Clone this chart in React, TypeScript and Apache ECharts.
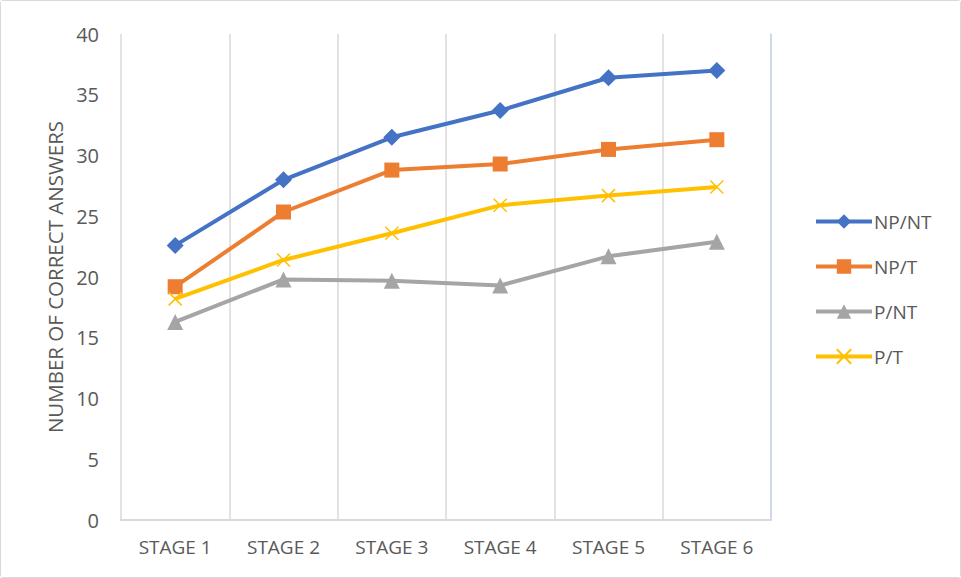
import React, { useEffect, useRef } from "react";
import * as echarts from "echarts";

const categories = ["STAGE 1", "STAGE 2", "STAGE 3", "STAGE 4", "STAGE 5", "STAGE 6"];
const seriesNames = ["NP/NT", "NP/T", "P/NT", "P/T"];
const npnt = [22.6, 28.0, 31.5, 33.7, 36.4, 37.0];
const npt = [19.2, 25.35, 28.8, 29.3, 30.5, 31.3];
const pnt = [16.3, 19.8, 19.7, 19.3, 21.7, 22.9];
const pt = [18.2, 21.4, 23.6, 25.9, 26.7, 27.4];
const colors = ["#4472C4", "#ED7D31", "#A5A5A5", "#FFC000"];
const yTitle = "NUMBER OF CORRECT ANSWERS";

const FONT = "'Open Sans', 'Noto Sans', sans-serif";
const TEXT = "#595959";

export default function App() {
  const ref = useRef<HTMLDivElement>(null);
  useEffect(() => {
    document.body.style.margin = "0";
    if (!ref.current) return;
    const chart = echarts.init(ref.current, undefined, { renderer: "svg" });
    const values = [npnt, npt, pnt, pt];
    const symbols = ["diamond", "rect", "triangle", "path://M0,0L10,10M10,0L0,10"];
    const sizes = [17, 15, 16, 13];
    chart.setOption({
      animation: false,
      backgroundColor: "#ffffff",
      grid: { left: 120, right: 189, top: 33, bottom: 57, containLabel: false },
      legend: {
        orient: "vertical",
        left: 808,
        top: 206,
        itemWidth: 56,
        itemHeight: 18,
        itemGap: 26,
        lineStyle: { width: 4 },
        textStyle: { color: TEXT, fontSize: 19, fontFamily: FONT, padding: [0, 0, 0, -3] },
        data: seriesNames,
      },
      xAxis: {
        type: "category",
        data: categories,
        boundaryGap: true,
        axisLine: { show: true, lineStyle: { color: "#D9D9D9", width: 2 } },
        axisTick: { show: false },
        splitLine: { show: true, lineStyle: { color: "#D9D9D9", width: 1.5 } },
        axisLabel: { color: TEXT, fontSize: 19, fontFamily: FONT, margin: 17 },
      },
      yAxis: [
        {
          type: "value",
          min: 0,
          max: 40,
          interval: 5,
          name: yTitle,
          nameLocation: "middle",
          nameGap: 56,
          nameTextStyle: { color: TEXT, fontSize: 20.5, fontFamily: FONT },
          axisLine: { show: false },
          axisTick: { show: false },
          splitLine: { show: false },
          axisLabel: { color: TEXT, fontSize: 20, fontFamily: FONT, margin: 22 },
        },
        {
          type: "value",
          position: "right",
          min: 0,
          max: 40,
          interval: 5,
          axisLine: { show: true, lineStyle: { color: "#C9D6EE", width: 1.5 } },
          axisTick: { show: false },
          axisLabel: { show: false },
          splitLine: { show: false },
        },
      ],
      series: seriesNames.map((name, i) => ({
        name,
        type: "line",
        yAxisIndex: 0,
        data: values[i],
        symbol: symbols[i],
        symbolSize: sizes[i],
        showSymbol: true,
        lineStyle: { color: colors[i], width: 4 },
        itemStyle:
          i === 3
            ? { color: colors[i], borderColor: colors[i], borderWidth: 1.5 }
            : { color: colors[i], borderWidth: 0 },
        emphasis: { disabled: true },
      })),
    });
    return () => chart.dispose();
  }, []);
  return (
    <div
      ref={ref}
      style={{
        width: 959,
        height: 576,
        border: "1px solid #D9D9D9",
        borderRadius: 3,
        background: "#fff",
      }}
    />
  );
}
